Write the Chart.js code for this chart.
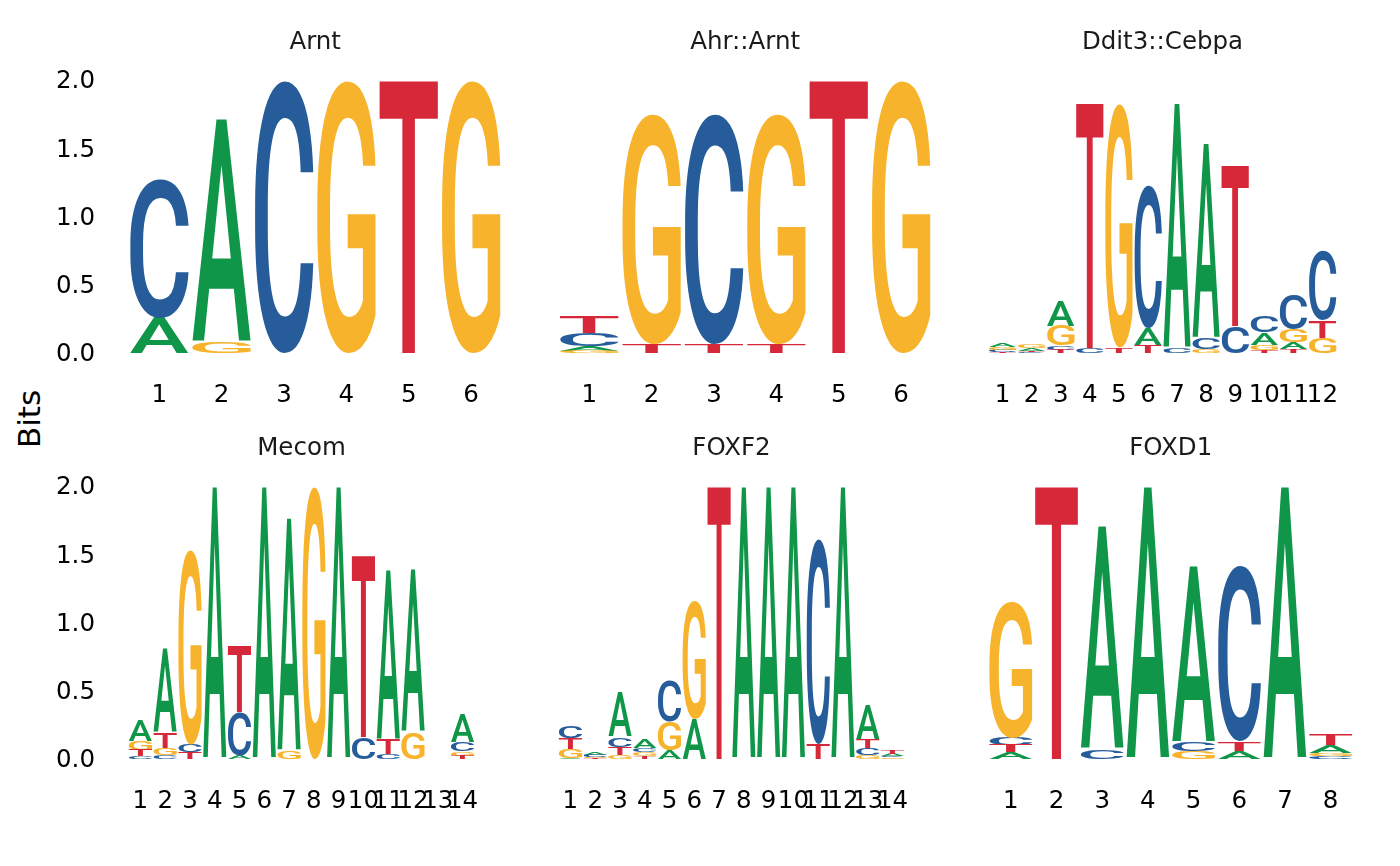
<!DOCTYPE html>
<html>
<head>
<meta charset="utf-8">
<script src="https://cdn.jsdelivr.net/npm/chart.js@4.4.0/dist/chart.umd.min.js"></script>
<style>
  html, body { margin:0; padding:0; background:#ffffff; width:1400px; height:866px; overflow:hidden; }
  canvas { position:absolute; }
  #bits { position:absolute; left:-11px; top:402.5px; width:80px; height:32px; line-height:32px;
          text-align:center; font-family:"DejaVu Sans"; font-size:31px; color:#000;
          transform:rotate(-90deg); }
</style>
</head>
<body>
<div id="bits">Bits</div>
<canvas id="c0" width="455" height="420" style="left:52px;top:0px;width:455px;height:420px"></canvas>
<canvas id="c1" width="455" height="420" style="left:482px;top:0px;width:455px;height:420px"></canvas>
<canvas id="c2" width="455" height="420" style="left:912px;top:0px;width:455px;height:420px"></canvas>
<canvas id="c3" width="455" height="420" style="left:52px;top:406px;width:455px;height:420px"></canvas>
<canvas id="c4" width="455" height="420" style="left:482px;top:406px;width:455px;height:420px"></canvas>
<canvas id="c5" width="455" height="420" style="left:912px;top:406px;width:455px;height:420px"></canvas>
<script>
// ---------- data ----------
const letters = ['A', 'C', 'G', 'T'];
const letterColors = ['#109648', '#255C99', '#F7B32B', '#D62839'];
const motifTitles = ['Arnt', 'Ahr::Arnt', 'Ddit3::Cebpa', 'Mecom', 'FOXF2', 'FOXD1'];
const yTickValues = [0, 0.5, 1, 1.5, 2];
const yTickLabels = ['0.0', '0.5', '1.0', '1.5', '2.0'];

const positions6  = ['1','2','3','4','5','6'];
const positions8  = ['1','2','3','4','5','6','7','8'];
const positions12 = ['1','2','3','4','5','6','7','8','9','10','11','12'];
const positions14 = ['1','2','3','4','5','6','7','8','9','10','11','12','13','14'];

// Arnt
const arntA = [0.26, 1.64, 0,    0,    0,    0];
const arntC = [1.02, 0,    2.0,  0,    0,    0];
const arntG = [0,    0.08, 0,    2.0,  0,    2.0];
const arntT = [0,    0,    0,    0,    2.0,  0];

// Ahr::Arnt
const ahrA = [0.035, 0,     0,     0,     0,   0];
const ahrC = [0.095, 0,     1.69,  0,     0,   0];
const ahrG = [0.015, 1.69,  0,     1.69,  0,   2.0];
const ahrT = [0.125, 0.065, 0.065, 0.065, 2.0, 0];

// Ddit3::Cebpa
const ddA = [0.03,  0.018, 0.18,  0,     0,    0.13,  1.80,  1.43, 0,    0.09, 0.05,  0];
const ddC = [0.015, 0.006, 0.03,  0.035, 0,    1.05,  0.035, 0.08, 0.20, 0.12, 0.26,  0.505];
const ddG = [0.02,  0.025, 0.145, 0,     1.79, 0,     0,     0.03, 0,    0.04, 0.095, 0.11];
const ddT = [0.01,  0.01,  0.025, 1.80,  0.04, 0.055, 0,     0,    1.18, 0.02, 0.03,  0.13];

// Mecom
const mecA = [0.16,  0.62, 0,     2.0, 0.025, 2.0, 1.71, 0,   2.0, 0,    1.24,  1.19,  0, 0.20];
const mecC = [0.02,  0.03, 0.056, 0,   0.317, 0,   0,    0,   0,   0.16, 0.04,  0,     0, 0.066];
const mecG = [0.065, 0.05, 1.43,  0,   0,     0,   0.06, 2.0, 0,   0,    0,     0.195, 0, 0.03];
const mecT = [0.045, 0.11, 0.05,  0,   0.49,  0,   0,    0,   0,   1.33, 0.105, 0,     0, 0.025];

// FOXF2
const foxf2A = [0.01,  0.022, 0.32,  0.066, 0.066, 0.293, 0,   2.0, 2.0, 2.0, 0,     2.0, 0.256, 0.017];
const foxf2C = [0.093, 0.015, 0.073, 0.03,  0.295, 0,     0,   0,   0,   0,   1.507, 0,   0.05,  0.012];
const foxf2G = [0.066, 0.01,  0.03,  0.028, 0.21,  0.87,  0,   0,   0,   0,   0,     0,   0.03,  0.011];
const foxf2T = [0.08,  0.007, 0.06,  0.022, 0,     0,     2.0, 0,   0,   0,   0.11,  0,   0.068, 0.03];

// FOXD1
const foxd1A = [0.05,  0,   1.64,  2.0, 1.29,  0.061, 2.0, 0.061];
const foxd1C = [0.055, 0,   0.073, 0,   0.068, 1.293, 0,   0.02];
const foxd1G = [1.00,  0,   0,     0,   0.056, 0,     0,   0.022];
const foxd1T = [0.053, 2.0, 0,     0,   0,     0.068, 0,   0.076];

const panelLabels = [positions6, positions6, positions12, positions14, positions14, positions8];
const panelHeights = [
  [arntA, arntC, arntG, arntT],
  [ahrA, ahrC, ahrG, ahrT],
  [ddA, ddC, ddG, ddT],
  [mecA, mecC, mecG, mecT],
  [foxf2A, foxf2C, foxf2G, foxf2T],
  [foxd1A, foxd1C, foxd1G, foxd1T]
];

// ---------- helpers ----------
// Stack letters at each position: smallest at the bottom, largest on top.
function stackRanges(heights) {
  const n = heights[0].length;
  const ranges = letters.map(() => []);
  for (let i = 0; i < n; i++) {
    const order = [0, 1, 2, 3].sort((a, b) => heights[a][i] - heights[b][i]);
    let base = 0;
    order.forEach(k => {
      const h = heights[k][i];
      ranges[k][i] = [base, base + h];
      base += h;
    });
  }
  return ranges;
}

const glyphFont = '500 200px "Roboto"';
function drawGlyph(ctx, ch, color, x, y, w, h) {
  ctx.save();
  ctx.font = glyphFont;
  ctx.textAlign = 'left';
  ctx.textBaseline = 'alphabetic';
  const m = ctx.measureText(ch);
  const gl = m.actualBoundingBoxLeft, gr = m.actualBoundingBoxRight;
  const ga = m.actualBoundingBoxAscent, gd = m.actualBoundingBoxDescent;
  const gw = gl + gr, gh = ga + gd;
  ctx.translate(x, y);
  ctx.scale(w / gw, h / gh);
  ctx.fillStyle = color;
  ctx.fillText(ch, gl, ga);
  ctx.restore();
}

const logoPlugin = {
  id: 'logoLetters',
  afterDatasetsDraw(chart) {
    const ctx = chart.ctx;
    chart.data.datasets.forEach((ds, d) => {
      const meta = chart.getDatasetMeta(d);
      meta.data.forEach(bar => {
        const p = bar.getProps(['x', 'y', 'base', 'width'], true);
        const top = Math.min(p.y, p.base);
        const h = Math.abs(p.base - p.y);
        if (!(h > 0.4)) return;
        drawGlyph(ctx, ds.letter, ds.glyphColor, p.x - p.width / 2, top, p.width, h);
      });
    });
  }
};

const tickFont = { family: 'DejaVu Sans', size: 24.5, lineHeight: 1.2 };

motifTitles.forEach((title, idx) => {
  const col = idx % 3;
  const ranges = stackRanges(panelHeights[idx]);
  new Chart(document.getElementById('c' + idx), {
    type: 'bar',
    data: {
      labels: panelLabels[idx],
      datasets: letters.map((L, k) => ({
        label: L,
        letter: L,
        glyphColor: letterColors[k],
        data: ranges[k],
        backgroundColor: 'rgba(0,0,0,0)',
        borderWidth: 0,
        grouped: false,
        barPercentage: 0.94,
        categoryPercentage: 1.0
      }))
    },
    options: {
      responsive: false,
      animation: false,
      events: [],
      layout: { padding: 0 },
      plugins: {
        legend: { display: false },
        tooltip: { enabled: false },
        title: {
          display: true,
          fullSize: false,
          text: title,
          color: '#1a1a1a',
          font: { family: 'DejaVu Sans', size: 24.5, weight: 'normal', lineHeight: 1.2 },
          padding: { top: 27.7, bottom: 22.9 }
        }
      },
      scales: {
        x: {
          grid: { display: false, drawTicks: false },
          border: { display: false },
          ticks: { color: '#000', font: tickFont, padding: 27.7, autoSkip: false, maxRotation: 0, minRotation: 0 },
          afterFit(s) { s.height = 67; }
        },
        y: {
          min: 0, max: 2,
          grid: { display: false, drawTicks: false },
          border: { display: false },
          ticks: {
            display: col === 0,
            stepSize: 0.5,
            color: '#000',
            font: tickFont,
            padding: 33,
            labelOffset: 2,
            callback: (v) => { const j = yTickValues.indexOf(v); return j >= 0 ? yTickLabels[j] : ''; }
          },
          afterFit(s) { s.width = 76; }
        }
      }
    },
    plugins: [logoPlugin]
  });
});
</script>
</body>
</html>
